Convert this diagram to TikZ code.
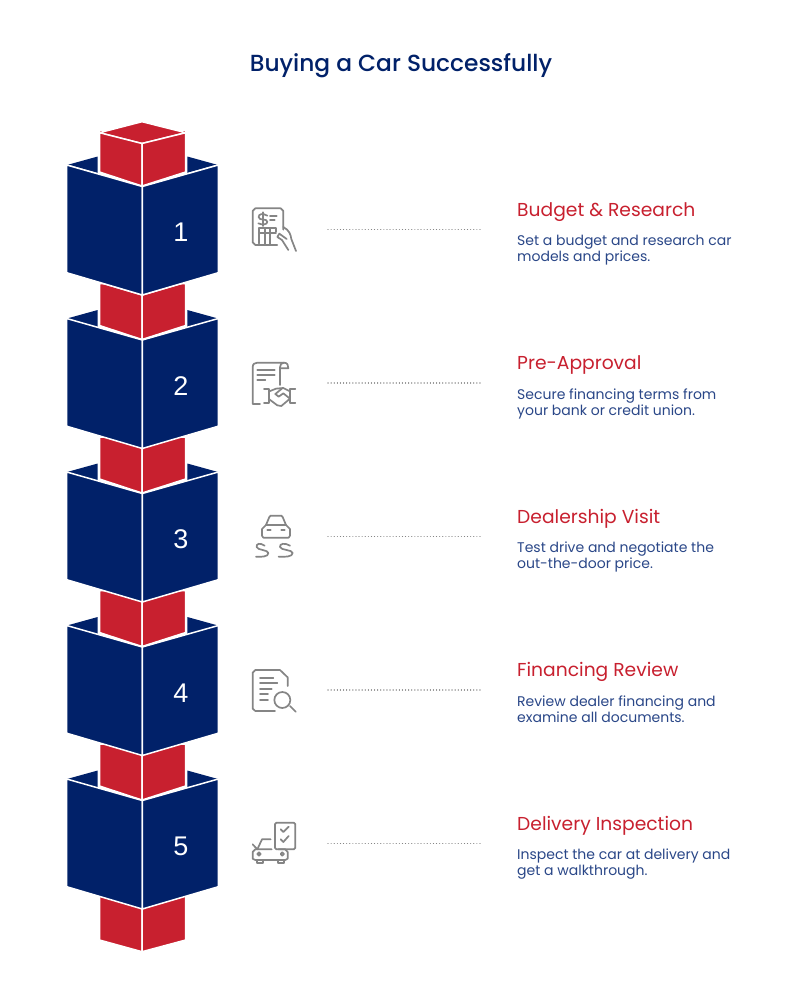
\documentclass[tikz,border=0pt]{standalone}
\usepackage{fontspec}
\setmainfont{Poppins}
\newfontfamily\strongfont{Poppins Medium}
\newfontfamily\digitfont{Liberation Sans}
\definecolor{navy}{HTML}{012169}
\definecolor{carred}{HTML}{C8202F}
\definecolor{icongray}{HTML}{858585}
\definecolor{bodyblue}{HTML}{2A4788}
\tikzset{
  facered/.style={fill=carred,draw=white,line width=1.5pt,line join=miter},
  faceblue/.style={fill=navy,draw=white,line width=1.5pt,line join=miter},
  backblue/.style={fill=navy,draw=none},
  numtext/.style={text=white,font=\digitfont\fontsize{27}{27}\selectfont,inner sep=0pt},
  headtext/.style={text=carred,anchor=base west,inner sep=0pt,font=\fontsize{18.7}{20}\selectfont},
  desctext/.style={text=bodyblue,anchor=north west,inner sep=0pt,align=left,font=\fontsize{14}{16}\selectfont},
  leader/.style={draw=icongray,line width=1.1pt,line cap=round,dash pattern=on 0.1pt off 3pt},
  iconline/.style={draw=icongray,line width=1.7pt,line cap=round,line join=round,fill=none},
}
\begin{document}
\begin{tikzpicture}[x=1pt,y=-1pt]
\useasboundingbox (0,0) rectangle (800,997);
\fill[white] (0,0) rectangle (800,997);
\node[text=navy,anchor=base,inner sep=0pt,font=\strongfont\fontsize{23.3}{26}\selectfont] (title) at (401,71) {Buying a Car Successfully};
% bottom red foot
\draw[facered] (99.5,890) -- (142,890) -- (142,951.7) -- (99.5,940) -- cycle;
\draw[facered] (185.7,890) -- (142,890) -- (142,951.7) -- (185.7,940) -- cycle;
% boxes, bottom to top so each covers the block under it
\foreach \i in {4,3,2,1,0}{
  \pgfmathsetmacro\yy{153.5*\i}
  \begin{scope}[shift={(0,\yy)}]
    \fill[backblue] (67,165) -- (97.7,156.5) -- (97.7,174) -- cycle;
    \fill[backblue] (218,165) -- (187.3,156.5) -- (187.3,174) -- cycle;
    \draw[facered] (99.5,130) -- (142,130) -- (142,186) -- (99.5,172) -- cycle;
    \draw[facered] (185.7,130) -- (142,130) -- (142,186) -- (185.7,172) -- cycle;
    \draw[faceblue] (66.7,165) -- (142.3,186.5) -- (142.3,295) -- (66.7,272.7) -- cycle;
    \draw[faceblue] (218.3,165) -- (142.3,186.5) -- (142.3,295) -- (218.3,272.7) -- cycle;
  \end{scope}
}
% top of the first red block
\draw[facered] (99.5,132.7) -- (142,121.7) -- (185.7,132.7) -- (142,143.5) -- cycle;
\draw[facered] (99.5,132.7) -- (142,143.5) -- (142,186) -- (99.5,172) -- cycle;
\draw[facered] (185.7,132.7) -- (142,143.5) -- (142,186) -- (185.7,172) -- cycle;
\draw[faceblue] (66.7,165) -- (142.3,186.5) -- (142.3,295) -- (66.7,272.7) -- cycle;
\draw[faceblue] (218.3,165) -- (142.3,186.5) -- (142.3,295) -- (218.3,272.7) -- cycle;
% labels and leaders
\foreach \i/\h/\da/\db in {
  0/{Budget \& Research}/{Set a budget and research car}/{models and prices.},
  1/{Pre-Approval}/{Secure financing terms from}/{your bank or credit union.},
  2/{Dealership Visit}/{Test drive and negotiate the}/{out-the-door price.},
  3/{Financing Review}/{Review dealer financing and}/{examine all documents.},
  4/{Delivery Inspection}/{Inspect the car at delivery and}/{get a walkthrough.}}{
  \pgfmathsetmacro\yy{153.5*\i}
  \begin{scope}[shift={(0,\yy)}]
    \pgfmathtruncatemacro\nn{\i+1}
    \node[numtext] (num\i) at (181,232.5) {\nn};
    \node[headtext] (head\i) at (517,216) {\h};
    \node[desctext] (desc\i) at (517,235) {\da\\\db};
    \coordinate (lead\i a) at (328,229.5);
    \coordinate (lead\i b) at (481,229.5);
    \draw[leader] (lead\i a) -- (lead\i b);
  \end{scope}
}
% icon 1
\begin{scope}[shift={(240,195)},x=0.3333pt,y=-0.3333pt]
  \draw[iconline] (112,150) -- (46,150) -- (38,142) -- (38,48) -- (46,40) -- (122,40) -- (130,48) -- (130,104);
  \draw[iconline] (82,62) .. controls (68,54) and (56,56) .. (56,66) .. controls (56,78) and (82,70) .. (82,80) .. controls (82,90) and (66,90) .. (55,85);
  \draw[iconline] (69,52) -- (69,93);
  \draw[iconline] (90,62) -- (110,62) (90,76) -- (104,76);
  \draw[iconline] (108,110) -- (108,100) -- (56,100) -- (56,145);
  \draw[iconline] (56,115) -- (108,115) (74,100) -- (74,148) (91,100) -- (91,148);
  \draw[iconline] (130,96) .. controls (148,106) and (152,118) .. (154,132) -- (168,168);
  \draw[iconline] (145,165) -- (126,135) -- (112,126) -- (118,116) -- (140,132);
\end{scope}
% icon 2
\begin{scope}[shift={(240,350)},x=0.3333pt,y=-0.3333pt]
  \draw[iconline] (60,162) -- (38,162) -- (38,52) .. controls (38,42) and (44,38) .. (52,38) -- (132,38) .. controls (142,38) and (146,46) .. (145,55) -- (120,55);
  \draw[iconline] (132,38) .. controls (124,38) and (120,44) .. (120,52) -- (120,105);
  \draw[iconline] (52,60) -- (104,60) (52,75) -- (104,75) (52,90) -- (76,90);
  \draw[iconline] (72,118) -- (88,118) -- (88,158) -- (72,158);
  \draw[iconline] (166,118) -- (150,118) -- (150,158) -- (166,158);
  \draw[iconline] (88,124) -- (108,116) -- (130,114) -- (150,124);
  \draw[iconline] (88,148) -- (112,166) -- (124,168) -- (150,146);
  \draw[iconline] (128,114) -- (106,132) -- (116,140) -- (130,130) -- (150,146);
\end{scope}
% icon 3
\begin{scope}[shift={(240,505)},x=0.3333pt,y=-0.3333pt]
  \draw[iconline] (78,60) -- (88,36) -- (92,32) -- (124,32) -- (128,36) -- (138,60);
  \draw[iconline] (70,98) -- (66,92) -- (66,72) -- (78,60) -- (138,60) -- (150,72) -- (150,92) -- (146,98) -- cycle;
  \draw[iconline] (82,75) -- (92,75) (124,75) -- (134,75);
  \draw[iconline] (74,122) .. controls (60,112) and (48,116) .. (50,126) .. controls (52,136) and (84,134) .. (85,144) .. controls (86,156) and (62,156) .. (48,155);
  \draw[iconline] (150,122) .. controls (134,112) and (118,116) .. (120,126) .. controls (122,136) and (158,134) .. (158,144) .. controls (158,156) and (134,156) .. (116,155);
\end{scope}
% icon 4
\begin{scope}[shift={(240,660)},x=0.3333pt,y=-0.3333pt]
  \draw[iconline] (105,153) -- (46,153) -- (38,146) -- (38,38) -- (46,30) -- (120,30) -- (143,52) -- (143,78);
  \draw[iconline] (60,55) -- (100,55) (60,70) -- (112,70) (60,88) -- (95,88) (60,103) -- (84,103) (60,120) -- (84,120);
  \draw[iconline] (127,120) circle[radius=24];
  \draw[iconline] (150,138) -- (167,155);
\end{scope}
% icon 5
\begin{scope}[shift={(240,810)},x=0.3333pt,y=-0.3333pt]
  \draw[iconline,rounded corners=1.5pt] (105,118) rectangle (166,38);
  \draw[iconline] (122,58) -- (130,66) -- (146,50) (122,88) -- (130,96) -- (146,78);
  \draw[iconline] (92,88) -- (66,88) -- (52,118) -- (38,103);
  \draw[iconline] (52,118) -- (95,118) (115,118) -- (136,118) -- (143,126) -- (143,146) -- (136,150) -- (46,150) -- (38,146) -- (38,126) -- (46,118) -- (52,118);
  \draw[iconline] (57,132) circle[radius=5] (127,132) circle[radius=5];
  \draw[iconline] (52,150) -- (52,160) -- (68,160) -- (68,150) (115,150) -- (115,160) -- (132,160) -- (132,150);
\end{scope}
\end{tikzpicture}
\end{document}
